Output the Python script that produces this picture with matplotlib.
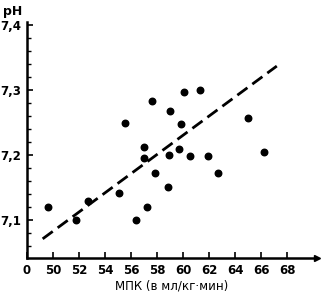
import numpy as np
import matplotlib
matplotlib.use('Agg')
import matplotlib.pyplot as plt
from matplotlib.ticker import MultipleLocator

plt.rcParams['font.family'] = ['Liberation Sans Narrow', 'DejaVu Sans']
plt.rcParams['font.weight'] = 'bold'

# МПК (мл/кг·мин) и pH
mpk = [49.6, 51.8, 52.7, 55.1, 55.5, 56.4, 57.0, 57.0, 57.2, 57.6, 57.8, 58.8,
       58.9, 59.0, 59.7, 59.8, 60.1, 60.5, 61.3, 61.9, 62.7, 65.0, 66.2]
ph = [7.12, 7.10, 7.13, 7.142, 7.25, 7.10, 7.212, 7.195, 7.12, 7.283, 7.172, 7.151,
      7.20, 7.268, 7.21, 7.248, 7.297, 7.198, 7.30, 7.198, 7.172, 7.257, 7.205]

# линия регрессии
line_x = [49.2, 67.2]
line_y = [7.071, 7.337]

xticks = [48, 50, 52, 54, 56, 58, 60, 62, 64, 66, 68]
xlabels = ['0', '50', '52', '54', '56', '58', '60', '62', '64', '66', '68']
yticks = [7.1, 7.2, 7.3, 7.4]
ylabels = ['7,1', '7,2', '7,3', '7,4']

fig = plt.figure(figsize=(3.3, 3.0), dpi=100)
ax = fig.add_axes([0.082, 0.14, 0.879, 0.787])

ax.scatter(mpk, ph, s=22, color='black', zorder=3)
ax.plot(line_x, line_y, color='black', lw=2.0, dashes=(4.5, 2.2))

ax.set_xlim(48, 70.3)
ax.set_ylim(7.0415, 7.405)

for s in ['top', 'right']:
    ax.spines[s].set_visible(False)
for s in ['left', 'bottom']:
    ax.spines[s].set_linewidth(1.8)

ax.set_xticks(xticks)
ax.set_xticklabels(xlabels)
ax.set_yticks(yticks)
ax.set_yticklabels(ylabels)
ax.yaxis.set_minor_locator(MultipleLocator(0.02))
ax.tick_params(axis='both', which='major', direction='in', length=4, width=1.2,
               labelsize=8.5, pad=4)
ax.tick_params(axis='y', which='minor', direction='in', length=3, width=1.0)

# стрелка на оси абсцисс
ax.plot([70.3], [7.0415], marker='>', color='black', markersize=5,
        clip_on=False, zorder=4)

ax.set_xlabel('МПК (в мл/кг·мин)', fontsize=8.5, labelpad=2)
fig.text(0.01, 0.985, 'pH', fontsize=9, va='top', ha='left')

fig.savefig('out.png', dpi=100)
